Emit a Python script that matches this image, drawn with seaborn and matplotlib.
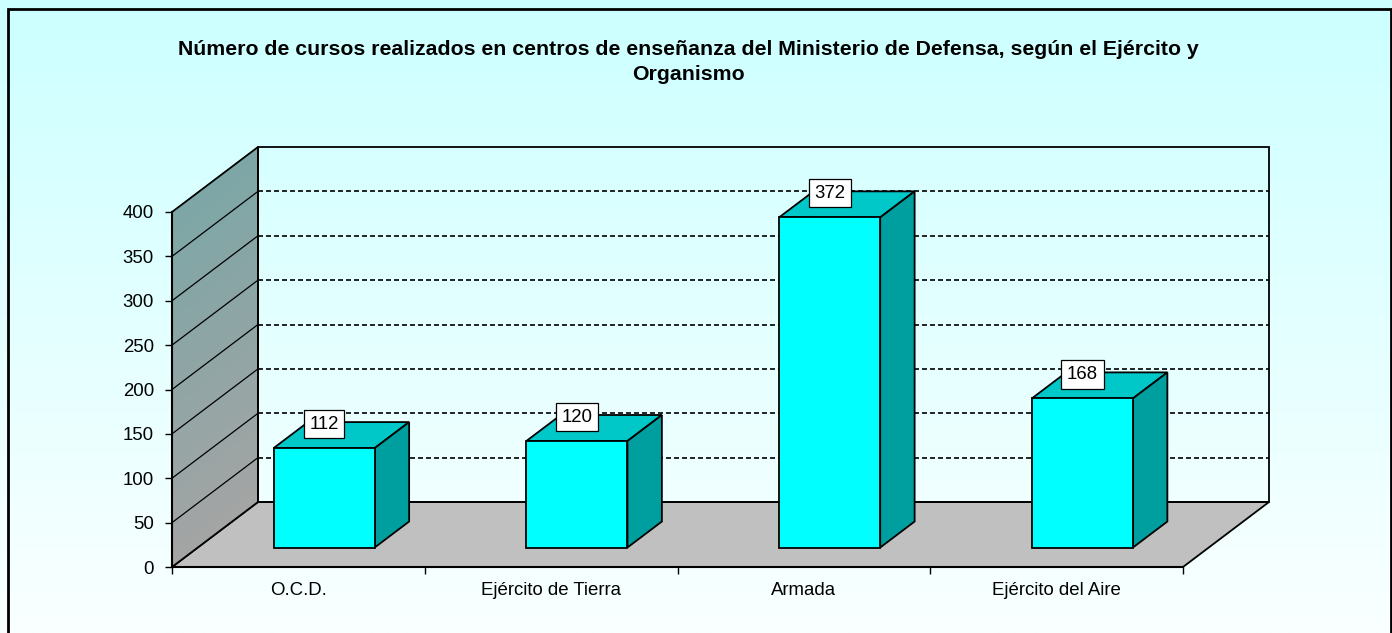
import numpy as np
import pandas as pd
import matplotlib
matplotlib.use("Agg")
import matplotlib.pyplot as plt
import matplotlib.transforms as mtransforms
from matplotlib.patches import Polygon, Rectangle
from matplotlib.colors import LinearSegmentedColormap, to_rgb
import seaborn as sns

# ---------------- data ----------------
categories = ["O.C.D.", "Ejército de Tierra", "Armada", "Ejército del Aire"]
values = [112, 120, 372, 168]
y_ticks = [0, 50, 100, 150, 200, 250, 300, 350, 400]
title = ("Número de cursos realizados en centros de enseñanza del Ministerio de Defensa, según el Ejército y\n"
         "Organismo")

sns.set_theme(style="white")
plt.rcParams['font.family'] = ['Liberation Sans', 'DejaVu Sans']
plt.rcParams['text.color'] = 'black'

W, H = 1392, 633
fig = plt.figure(figsize=(W / 100, H / 100), dpi=100)

# background gradient
bg = fig.add_axes([0, 0, 1, 1], zorder=-10)
grad = np.linspace(0, 1, 256)[:, None]
bg.imshow(grad, cmap=LinearSegmentedColormap.from_list('bg', ['#CCFFFF', '#FAFFFF']),
          aspect='auto', extent=[0, 1, 0, 1])
bg.set_xlim(0, 1); bg.set_ylim(0, 1)
bg.set_axis_off()

# outer frame
fig.patches.append(Rectangle((7.5 / W, -0.02), (1390.5 - 7.5) / W, (H - 9) / H + 0.02,
                             transform=fig.transFigure, fill=False, ec='black', lw=2))

fig.text(688 / W, 1 - 62 / H, title, ha='center', va='center', fontsize=15.3,
         fontweight='bold', linespacing=1.36, color='black')

# main axes = front plane
ax = fig.add_axes([172 / W, 66 / H, 1011 / W, 355 / H])
ax.set_facecolor('none')

df = pd.DataFrame({'cat': categories, 'val': values})
sns.barplot(data=df, x='cat', y='val', width=0.4, color='#00FFFF', saturation=1,
            edgecolor='black', linewidth=1.3, ax=ax, zorder=6)
bars = list(ax.patches)

X0, X1 = -0.5, len(categories) - 0.5
YT = y_ticks[-1]
DX = 86 / 1011 * (X1 - X0)
DY = 65 / 355 * YT
D0, D1 = 0.3, 0.7

# floor
ax.add_patch(Polygon([(X0, 0), (X1, 0), (X1 + DX, DY), (X0 + DX, DY)], closed=True,
                     fc='#C0C0C0', ec='black', lw=1.3, zorder=1, clip_on=False))
# left wall gradient strips
ctop, cbot = np.array(to_rgb('#7DA6A6')), np.array(to_rgb('#A4A4A4'))
n = 80
for i in range(n):
    a, b = YT * i / n, YT * (i + 1) / n
    t = (i + 0.5) / n
    c = cbot * (1 - t) + ctop * t
    ax.add_patch(Polygon([(X0, a), (X0, b), (X0 + DX, b + DY), (X0 + DX, a + DY)], closed=True,
                         fc=c, ec=c, lw=0.6, zorder=1.1, clip_on=False))
ax.add_patch(Polygon([(X0, 0), (X0, YT), (X0 + DX, YT + DY), (X0 + DX, DY)], closed=True,
                     fill=False, ec='black', lw=1.3, zorder=1.3, clip_on=False))
# back wall outline
ax.add_patch(Polygon([(X0 + DX, DY), (X1 + DX, DY), (X1 + DX, YT + DY), (X0 + DX, YT + DY)],
                     closed=True, fill=False, ec='black', lw=1.3, zorder=1.3, clip_on=False))
# grid lines
for v in y_ticks[1:-1]:
    ax.plot([X0, X0 + DX], [v, v + DY], color='black', lw=0.9, zorder=1.4, clip_on=False)
    ax.plot([X0 + DX, X1 + DX], [v + DY, v + DY], color='black', lw=1.2,
            ls=(0, (3, 1.8)), zorder=1.4, clip_on=False)

# 3D bars
shift = mtransforms.Affine2D().translate(D0 * DX, D0 * DY) + ax.transData
for p in bars:
    x0, w, h = p.get_x(), p.get_width(), p.get_height()
    p.set_transform(shift)
    p.set_clip_on(False)
    top = [(x0 + D0 * DX, h + D0 * DY), (x0 + w + D0 * DX, h + D0 * DY),
           (x0 + w + D1 * DX, h + D1 * DY), (x0 + D1 * DX, h + D1 * DY)]
    side = [(x0 + w + D0 * DX, D0 * DY), (x0 + w + D1 * DX, D1 * DY),
            (x0 + w + D1 * DX, h + D1 * DY), (x0 + w + D0 * DX, h + D0 * DY)]
    ax.add_patch(Polygon(top, closed=True, fc='#00C8C8', ec='black', lw=1.3, zorder=5, clip_on=False))
    ax.add_patch(Polygon(side, closed=True, fc='#009F9F', ec='black', lw=1.3, zorder=5, clip_on=False))
    ax.text(x0 + w / 2 + D0 * DX, h + D0 * DY + 27, f"{h:.0f}", ha='center', va='center',
            fontsize=13.4, zorder=10, color='black',
            bbox=dict(boxstyle='square,pad=0.3', fc='white', ec='black', lw=0.9))

ax.set_xlim(X0, X1)
ax.set_ylim(0, YT)
ax.set_xlabel('')
ax.set_ylabel('')
ax.set_yticks(y_ticks)
ax.set_xticks(range(len(categories)))
ax.set_xticklabels(categories)
ax.set_xticks(np.arange(X0, X1 + 0.01, 1), minor=True)
ax.tick_params(axis='y', which='major', left=True, length=5, width=1, color='black',
               direction='out', labelsize=13.4, pad=8, labelcolor='black')
ax.tick_params(axis='x', which='major', bottom=False, length=0, labelsize=13.4, pad=11,
               labelcolor='black')
ax.tick_params(axis='x', which='minor', bottom=True, length=5, width=1, color='black',
               direction='out')
for s in ['top', 'right']:
    ax.spines[s].set_visible(False)
for s in ['left', 'bottom']:
    ax.spines[s].set_color('black')
    ax.spines[s].set_linewidth(1.5)
    ax.spines[s].set_zorder(1.5)

fig.savefig('out.png', dpi=100)
